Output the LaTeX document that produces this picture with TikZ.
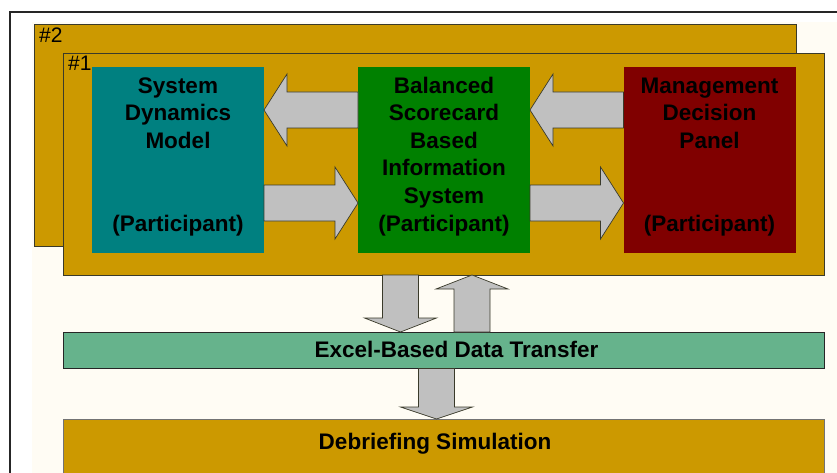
\documentclass[tikz,border=0pt]{standalone}
\usepackage{fontspec}
\setmainfont{Liberation Sans}
\usetikzlibrary{calc}

\definecolor{runfill}{HTML}{CC9900}
\definecolor{sdmfill}{HTML}{008080}
\definecolor{bscfill}{HTML}{008000}
\definecolor{dmpfill}{HTML}{800000}
\definecolor{xferfill}{HTML}{66B38C}
\definecolor{arrowfill}{HTML}{C0C0C0}
\definecolor{paper}{HTML}{FFFCF4}
\definecolor{edge}{HTML}{3A3A2A}

\tikzset{
  panel/.style={draw=edge, line width=0.8pt, fill=runfill, inner sep=0pt,
    outer sep=0pt, anchor=north west},
  module/.style={inner sep=0pt, outer sep=0pt, minimum width=172pt,
    minimum height=186pt},
  boxtext/.style={font=\fontsize{22.5}{27.6}\selectfont\bfseries,
    align=center, anchor=base, inner sep=0pt},
  runlabel/.style={font=\fontsize{21}{24}\selectfont, anchor=base west,
    inner sep=0pt},
  blockarrow/.style={draw=edge, line width=0.7pt, fill=arrowfill,
    line join=miter}
}

% horizontal block arrow: tail, tip, direction (1 right, -1 left), head length
\newcommand\hblock[4]{%
  \draw[blockarrow] ($(#1)+(0,-18)$) -- ($(#2)+({-(#3)*(#4)},-18)$)
    -- ($(#2)+({-(#3)*(#4)},-36)$) -- (#2)
    -- ($(#2)+({-(#3)*(#4)},36)$) -- ($(#2)+({-(#3)*(#4)},18)$)
    -- ($(#1)+(0,18)$) -- cycle;}
% vertical block arrow: tail, tip, direction (1 down, -1 up), head length
\newcommand\vblock[4]{%
  \draw[blockarrow] ($(#1)+(-18,0)$) -- ($(#2)+(-18,{-(#3)*(#4)})$)
    -- ($(#2)+(-36,{-(#3)*(#4)})$) -- (#2)
    -- ($(#2)+(36,{-(#3)*(#4)})$) -- ($(#2)+(18,{-(#3)*(#4)})$)
    -- ($(#1)+(18,0)$) -- cycle;}

\begin{document}
\begin{tikzpicture}[x=1pt,y=-1pt]
\useasboundingbox (0,0) rectangle (837,473);
\clip (0,0) rectangle (837,473);
\fill[white] (0,0) rectangle (837,473);
\fill[paper] (32,22) rectangle (837,473);
\draw[line width=2pt, black!85] (10,480) -- (10,12) -- (845,12);

% two stacked simulation runs
\node[panel, minimum width=762pt, minimum height=222pt] (run2) at (34,24) {};
\node[runlabel] (lab2) at (39,43) {\#2};
\node[panel, minimum width=761pt, minimum height=222pt] (run1) at (63,53) {};
\node[runlabel] (lab1) at (68,71) {\#1};

% modules of run #1
\node[module, fill=sdmfill] (sdm) at (178,160) {};
\node[module, fill=bscfill] (bsc) at (444,160) {};
\node[module, fill=dmpfill] (dmp) at (709.5,160) {};

% module captions, placed by the baseline of their last line
\node[boxtext] (sdmt) at ($(sdm.north)+(0,164)$)
  {System\\Dynamics\\Model\\~\\~\\(Participant)};
\node[boxtext] (bsct) at ($(bsc.north)+(0,164)$)
  {Balanced\\Scorecard\\Based\\Information\\System\\(Participant)};
\node[boxtext] (dmpt) at ($(dmp.north)+(0,164)$)
  {Management\\Decision\\Panel\\~\\~\\(Participant)};

% data transfer bar and debriefing
\node[panel, fill=xferfill, draw=black!85, minimum width=761pt,
  minimum height=36.5pt] (xfer) at (63,332) {};
\node[boxtext] (xfert) at (456.5,357) {Excel-Based Data Transfer};
\node[panel, draw=black!55, minimum width=761pt, minimum height=81pt]
  (debrief) at (63,419) {};
\node[boxtext] (debrieft) at (435,449) {Debriefing Simulation};

% connectors between modules
\coordinate (a1s) at ($(bsc.west)+(0,-50)$);
\coordinate (a1e) at ($(sdm.east)+(0,-50)$);
\coordinate (a2s) at ($(sdm.east)+(0,43)$);
\coordinate (a2e) at ($(bsc.west)+(0,43)$);
\coordinate (a3s) at ($(dmp.west)+(0,-50)$);
\coordinate (a3e) at ($(bsc.east)+(0,-50)$);
\coordinate (a4s) at ($(bsc.east)+(0,43)$);
\coordinate (a4e) at ($(dmp.west)+(0,43)$);
\hblock{a1s}{a1e}{-1}{23}
\hblock{a2s}{a2e}{1}{23}
\hblock{a3s}{a3e}{-1}{23}
\hblock{a4s}{a4e}{1}{23}

% connectors to and from the transfer bar
\coordinate (d1s) at ($(run1.south)+(-43,0)$);
\coordinate (d1e) at ($(xfer.north)+(-43,0)$);
\coordinate (u1s) at ($(xfer.north)+(28.5,0)$);
\coordinate (u1e) at ($(run1.south)+(28.5,0)$);
\coordinate (d2s) at ($(xfer.south)+(-7,0)$);
\coordinate (d2e) at ($(debrief.north)+(-7,0)$);
\vblock{d1s}{d1e}{1}{14}
\vblock{u1s}{u1e}{-1}{14}
\vblock{d2s}{d2e}{1}{12}
\end{tikzpicture}
\end{document}
